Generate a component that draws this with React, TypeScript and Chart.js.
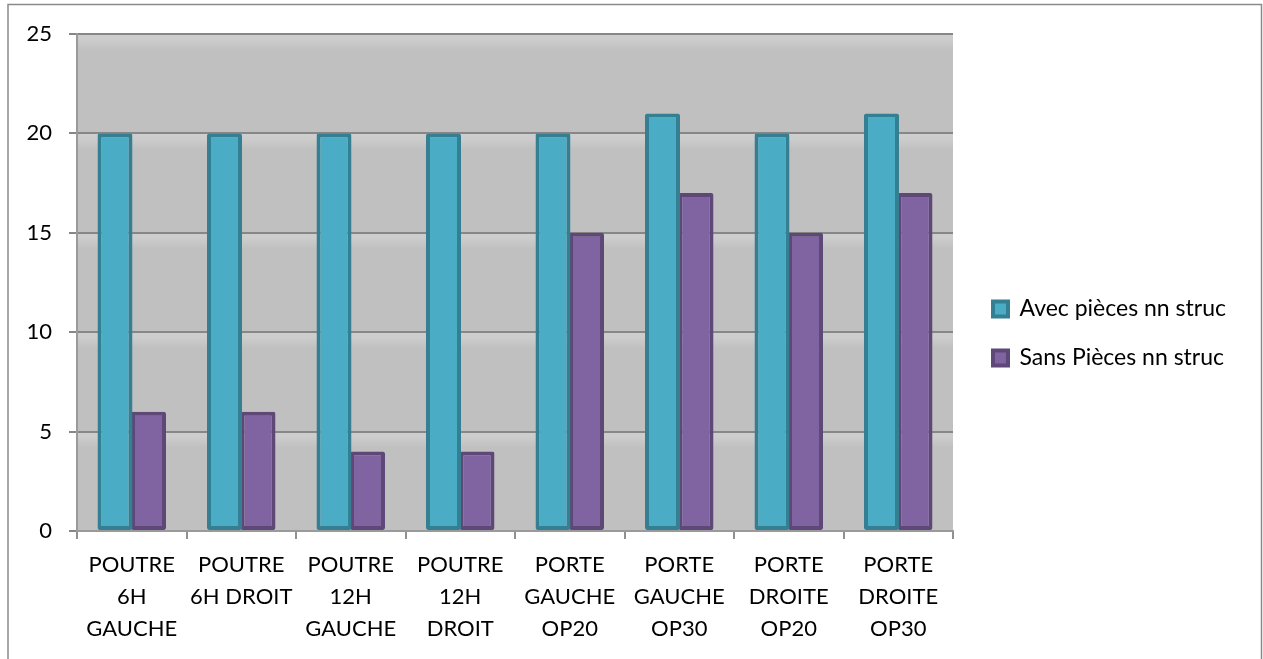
import React, { useEffect, useRef } from "react";
import { Chart, registerables } from "chart.js";

Chart.register(...registerables);

const categories: string[][] = [
  ["POUTRE", "6H", "GAUCHE"],
  ["POUTRE", "6H DROIT"],
  ["POUTRE", "12H", "GAUCHE"],
  ["POUTRE", "12H", "DROIT"],
  ["PORTE", "GAUCHE", "OP20"],
  ["PORTE", "GAUCHE", "OP30"],
  ["PORTE", "DROITE", "OP20"],
  ["PORTE", "DROITE", "OP30"],
];
const seriesNames = ["Avec pièces nn struc", "Sans Pièces nn struc"];
const avecValues = [20, 20, 20, 20, 20, 21, 20, 21];
const sansValues = [6, 6, 4, 4, 15, 17, 15, 17];
const yTicks = [0, 5, 10, 15, 20, 25];

const FONT_FAMILY = "Lato";

export default function App() {
  const ref = useRef<HTMLCanvasElement>(null);

  useEffect(() => {
    if (!ref.current) return;
    const font = { family: FONT_FAMILY, size: 22, lineHeight: 32 / 22 };
    const legendFont = { family: FONT_FAMILY, size: 23 };

    const excelPlugin = {
      id: "excelLook",
      beforeLayout(chart: any) {
        const lg = chart.legend;
        if (lg && !lg._patched) {
          const orig = lg.fit.bind(lg);
          lg.fit = () => {
            orig();
            lg.width = 310;
          };
          lg._patched = true;
        }
      },
      afterLayout(chart: any) {
        const lg = chart.legend;
        if (!lg) return;
        lg.left = 967;
        lg.right = 1263;
        lg.width = 296;
        lg.top = 34;
        lg.bottom = 633;
        lg.height = 599;
      },
      beforeDraw(chart: any) {
        const { ctx, chartArea: a } = chart;
        const ys = chart.scales.y;
        ctx.save();
        ctx.fillStyle = "#ffffff";
        ctx.fillRect(0, 0, chart.width, chart.height);
        ctx.fillStyle = "#C0C0C0";
        ctx.fillRect(a.left, a.top, a.right - a.left, a.bottom - a.top);
        for (const v of yTicks) {
          if (v === 0) continue;
          const py = ys.getPixelForValue(v);
          const g = ctx.createLinearGradient(0, py, 0, py + 16);
          g.addColorStop(0, "rgba(206,206,206,1)");
          g.addColorStop(0.3, "rgba(205,205,205,1)");
          g.addColorStop(1, "rgba(192,192,192,1)");
          ctx.fillStyle = g;
          ctx.fillRect(a.left, py, a.right - a.left, 16);
        }
        ctx.strokeStyle = "#8A8A8A";
        ctx.lineWidth = 1.5;
        ctx.beginPath();
        ctx.moveTo(8, 659);
        ctx.lineTo(8, 4.5);
        ctx.lineTo(1261.5, 4.5);
        ctx.lineTo(1261.5, 659);
        ctx.stroke();
        ctx.restore();
      },
    };

    const chart = new Chart(ref.current, {
      type: "bar",
      data: {
        labels: categories,
        datasets: [
          {
            label: seriesNames[0],
            data: avecValues,
            backgroundColor: "#4BACC6",
            borderColor: "#357F93",
            borderWidth: 4,
            borderSkipped: false,
            borderRadius: 2,
            inflateAmount: 0,
            categoryPercentage: 0.612,
            barPercentage: 1.045,
          },
          {
            label: seriesNames[1],
            data: sansValues,
            backgroundColor: "#8064A2",
            borderColor: "#5D4878",
            borderWidth: 4,
            borderSkipped: false,
            borderRadius: 2,
            inflateAmount: 0,
            categoryPercentage: 0.612,
            barPercentage: 1.045,
          },
        ],
      },
      options: {
        responsive: false,
        animation: false,
        layout: { padding: { top: 34, left: 0, right: 0, bottom: 0 } },
        plugins: {
          legend: {
            position: "right",
            align: "center",
            labels: {
              font: legendFont,
              color: "#000000",
              boxWidth: 15,
              boxHeight: 15,
              padding: 26,
            },
          },
          tooltip: { enabled: false },
        },
        scales: {
          x: {
            offset: true,
            grid: {
              offset: true,
              drawOnChartArea: false,
              drawTicks: true,
              tickLength: 8,
              color: "#909090",
              lineWidth: 2,
            },
            border: { color: "#9A9A9A", width: 2 },
            ticks: {
              font,
              color: "#000000",
              padding: 10,
              autoSkip: false,
              maxRotation: 0,
              minRotation: 0,
            },
            afterFit(s: any) {
              s.height = 128;
            },
          },
          y: {
            min: 0,
            max: 25,
            ticks: {
              stepSize: 5,
              font,
              color: "#000000",
              padding: 17,
            },
            grid: { color: "#878787", lineWidth: 2, tickLength: 8 },
            border: { color: "#9A9A9A", width: 2 },
            afterFit(s: any) {
              s.width = 77;
            },
          },
        },
      },
      plugins: [excelPlugin],
    } as any);

    return () => chart.destroy();
  }, []);

  return (
    <div style={{ position: "absolute", left: 0, top: 0, width: 1263, height: 659 }}>
      <canvas ref={ref} width={1263} height={659} style={{ display: "block" }} />
    </div>
  );
}
